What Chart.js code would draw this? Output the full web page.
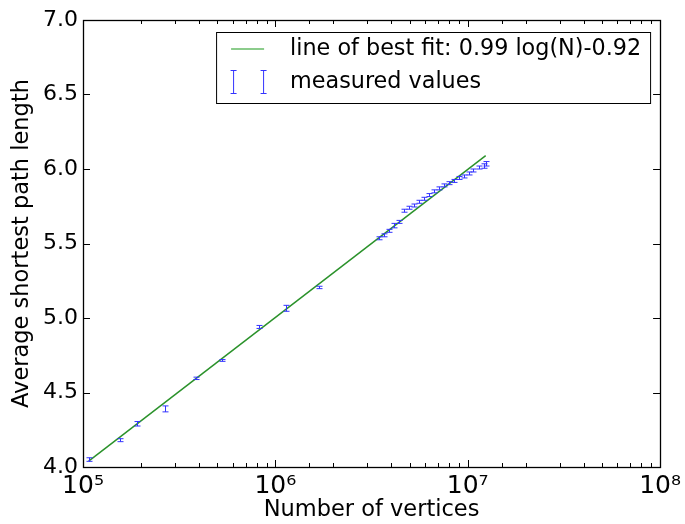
<!DOCTYPE html>
<html>
<head>
<meta charset="utf-8">
<script src="https://cdn.jsdelivr.net/npm/chart.js@4/dist/chart.umd.min.js"></script>
<style>
  html, body { margin: 0; padding: 0; background: #fff; }
  #wrap { width: 685px; height: 524px; }
</style>
</head>
<body>
<div id="wrap"><canvas id="pathChart"></canvas></div>
<script>
const vertices = [107400, 155000, 190500, 266000, 385000, 525000, 826000, 1140000, 1690000,
  3460000, 3670000, 3900000, 4140000, 4390000, 4660000, 4940000, 5250000, 5570000, 5920000,
  6280000, 6670000, 7080000, 7520000, 7980000, 8450000, 8980000, 9530000, 10100000,
  10700000, 11400000, 12100000, 12400000];
const avgPath = [4.05, 4.18, 4.29, 4.39, 4.595, 4.715, 4.94, 5.065, 5.205,
  5.535, 5.555, 5.585, 5.62, 5.645, 5.72, 5.74, 5.755, 5.78, 5.80,
  5.825, 5.85, 5.87, 5.89, 5.905, 5.92, 5.94, 5.95, 5.97,
  5.99, 6.01, 6.02, 6.035];
const pathErr = [0.012, 0.01, 0.015, 0.02, 0.008, 0.006, 0.01, 0.02, 0.008,
  0.01, 0.01, 0.01, 0.015, 0.01, 0.01, 0.01, 0.01, 0.01, 0.01,
  0.01, 0.01, 0.01, 0.01, 0.01, 0.01, 0.01, 0.01, 0.01,
  0.01, 0.01, 0.015, 0.015];

// fitted line end points
const fitVertices = [107000, 12400000];
const fitPath = [4.04, 6.09];

const xTickLabels = { 5: "10\u2075", 6: "10\u2076", 7: "10\u2077", 8: "10\u2078" };
const fitLabel = "line of best fit: 0.99 log(N)-0.92";
const measuredLabel = "measured values";

const FONT = "DejaVu Sans";
const GREEN = "#2b922b";
const BLUE = "#3333ff";

// error bars drawn from the dataset values through the chart scales
const errorBars = {
  id: "errorBars",
  afterDatasetsDraw(chart) {
    const ctx = chart.ctx;
    const xs = chart.scales.x, ys = chart.scales.y;
    ctx.save();
    ctx.strokeStyle = BLUE;
    ctx.lineWidth = 1;
    vertices.forEach(function (n, i) {
      const px = Math.round(xs.getPixelForValue(n)) + 0.5;
      const top = ys.getPixelForValue(avgPath[i] + pathErr[i]);
      const bot = ys.getPixelForValue(avgPath[i] - pathErr[i]);
      ctx.beginPath();
      ctx.moveTo(px, top); ctx.lineTo(px, bot);
      ctx.moveTo(px - 3, top); ctx.lineTo(px + 3, top);
      ctx.moveTo(px - 3, bot); ctx.lineTo(px + 3, bot);
      ctx.stroke();
    });
    ctx.restore();
  }
};

// matplotlib style frame: box plus inward ticks on all sides, and the legend
const mplFrame = {
  id: "mplFrame",
  afterDraw(chart) {
    const ctx = chart.ctx;
    const a = chart.chartArea;
    const xs = chart.scales.x, ys = chart.scales.y;
    ctx.save();
    ctx.strokeStyle = "#000";
    ctx.lineWidth = 1;
    ctx.beginPath();
    xs.ticks.forEach(function (t) {
      const p = Math.round(xs.getPixelForValue(t.value)) + 0.5;
      const major = Math.abs(Math.log10(t.value) - Math.round(Math.log10(t.value))) < 1e-9;
      const len = major ? 7 : 4;
      ctx.moveTo(p, a.bottom); ctx.lineTo(p, a.bottom - len);
      ctx.moveTo(p, a.top); ctx.lineTo(p, a.top + len);
    });
    ys.ticks.forEach(function (t) {
      const p = Math.round(ys.getPixelForValue(t.value)) + 0.5;
      ctx.moveTo(a.left, p); ctx.lineTo(a.left + 7, p);
      ctx.moveTo(a.right, p); ctx.lineTo(a.right - 7, p);
    });
    ctx.stroke();
    ctx.lineWidth = 1.3;
    ctx.strokeRect(Math.round(a.left) + 0.5, Math.round(a.top) + 0.5,
      Math.round(a.right - a.left), Math.round(a.bottom - a.top));

    // legend box
    const bx = a.right - 444, by = a.top + 12, bw = 434, bh = 71;
    ctx.fillStyle = "#fff";
    ctx.fillRect(bx, by, bw, bh);
    ctx.lineWidth = 1;
    ctx.strokeStyle = "#000";
    ctx.strokeRect(bx + 0.5, by + 0.5, bw, bh);
    ctx.strokeStyle = "#66bb66";
    ctx.lineWidth = 1.5;
    ctx.beginPath();
    ctx.moveTo(bx + 15, by + 17); ctx.lineTo(bx + 48, by + 17);
    ctx.stroke();
    ctx.strokeStyle = BLUE;
    ctx.lineWidth = 1;
    [bx + 17.5, bx + 47.5].forEach(function (ex) {
      ctx.beginPath();
      ctx.moveTo(ex, by + 38.5); ctx.lineTo(ex, by + 61.5);
      ctx.moveTo(ex - 3, by + 38.5); ctx.lineTo(ex + 3, by + 38.5);
      ctx.moveTo(ex - 3, by + 61.5); ctx.lineTo(ex + 3, by + 61.5);
      ctx.stroke();
    });
    ctx.fillStyle = "#000";
    ctx.font = "22.3px '" + FONT + "'";
    ctx.textBaseline = "middle";
    ctx.fillText(fitLabel, bx + 74, by + 17);
    ctx.fillText(measuredLabel, bx + 74, by + 50);
    ctx.restore();
  }
};

new Chart("pathChart", {
  type: "scatter",
  data: {
    datasets: [
      {
        label: fitLabel,
        type: "line",
        data: fitVertices.map(function (n, i) { return { x: n, y: fitPath[i] }; }),
        borderColor: GREEN,
        borderWidth: 1.5,
        pointRadius: 0,
        fill: false,
        order: 2
      },
      {
        label: measuredLabel,
        data: vertices.map(function (n, i) { return { x: n, y: avgPath[i] }; }),
        pointRadius: 0,
        showLine: false,
        order: 1
      }
    ]
  },
  plugins: [errorBars, mplFrame],
  options: {
    responsive: true,
    maintainAspectRatio: false,
    animation: false,
    layout: { padding: { top: 20, right: 23, left: 0, bottom: 0 } },
    plugins: {
      legend: { display: false },
      tooltip: { enabled: false }
    },
    scales: {
      x: {
        type: "logarithmic",
        min: 1e5,
        max: 1e8,
        grid: { display: false, drawTicks: false },
        border: { display: false },
        afterFit: function (s) { s.height = 57; },
        title: {
          display: true,
          text: "Number of vertices",
          color: "#000",
          font: { family: FONT, size: 22.5 },
          padding: { top: 0, bottom: 0 }
        },
        ticks: {
          autoSkip: false,
          maxRotation: 0,
          color: "#000",
          padding: 4,
          font: { family: FONT, size: 25 },
          callback: function (v) {
            const e = Math.log10(v);
            return Math.abs(e - Math.round(e)) < 1e-9 ? xTickLabels[Math.round(e)] : "";
          }
        }
      },
      y: {
        min: 4,
        max: 7,
        grid: { display: false, drawTicks: false },
        border: { display: false },
        afterFit: function (s) { s.width = 83; },
        title: {
          display: true,
          text: "Average shortest path length",
          color: "#000",
          font: { family: FONT, size: 22.5 },
          padding: { top: 9, bottom: 0 }
        },
        ticks: {
          stepSize: 0.5,
          color: "#000",
          padding: 5,
          font: { family: FONT, size: 22 },
          callback: function (v) { return v.toFixed(1); }
        }
      }
    }
  }
});
</script>
</body>
</html>
